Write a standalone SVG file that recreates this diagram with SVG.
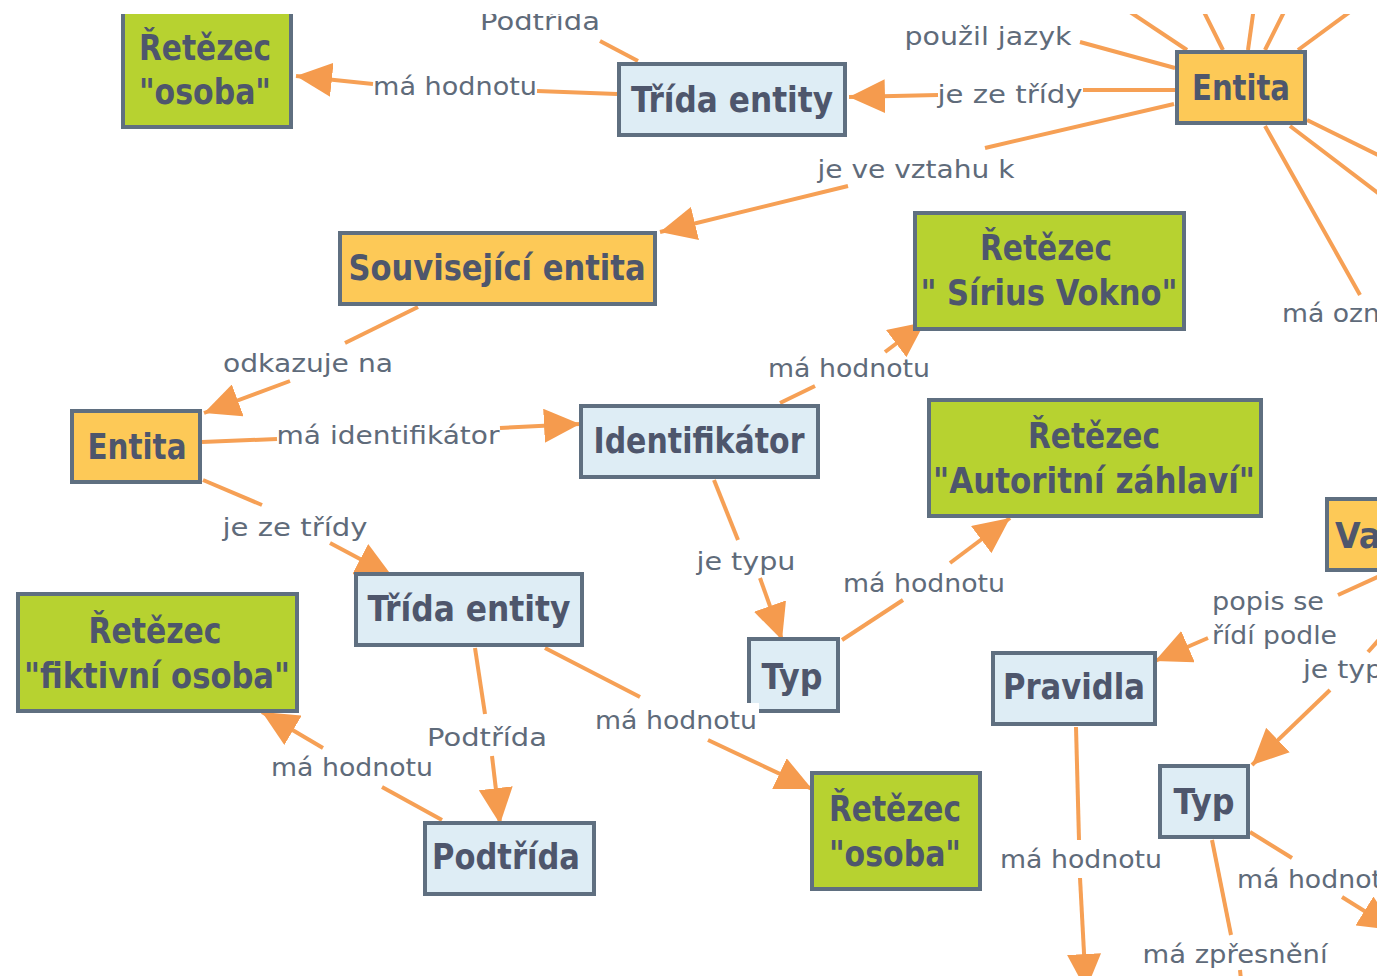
<svg xmlns="http://www.w3.org/2000/svg" width="1382" height="976" viewBox="0 0 1382 976">
<style>
.c{fill:none;stroke:#f6a055;stroke-width:4;stroke-linecap:butt}
.nd rect{stroke:#5f6f80;stroke-width:4}
.g{fill:#b7d230}.o{fill:#fdc957}.b{fill:#deedf5}
.nt{font-family:"DejaVu Sans Condensed","DejaVu Sans",sans-serif;font-weight:bold;font-size:35px;fill:#4e566c;text-anchor:middle}
.lb{font-family:"DejaVu Sans","Verdana",sans-serif;font-size:25px;fill:#5f6b7a;text-anchor:middle}
.st{text-anchor:start}
</style>
<defs>
<clipPath id="view"><rect x="0" y="14" width="1377" height="962"/></clipPath>
<marker id="ah" markerUnits="userSpaceOnUse" markerWidth="36" markerHeight="34" refX="36" refY="17" orient="auto" viewBox="0 0 36 34"><path d="M0,0 L36,17 L0,34 z" fill="#f59b4e"/></marker>
</defs>
<rect x="0" y="0" width="1382" height="976" fill="#ffffff"/>
<g clip-path="url(#view)">
<g id="connectors">
<path class="c" d="M617,94 L537,91"/>
<path class="c" d="M373,84 L296,76" marker-end="url(#ah)"/>
<path class="c" d="M600,41 L638,61"/>
<path class="c" d="M1175,90 L1083,90"/>
<path class="c" d="M938,95 L849,97" marker-end="url(#ah)"/>
<path class="c" d="M1175,68 L1080,42"/>
<path class="c" d="M1174,104 L985,148"/>
<path class="c" d="M848,186 L660,232" marker-end="url(#ah)"/>
<path class="c" d="M1112,0 L1187,50"/>
<path class="c" d="M1198,0 L1223,50"/>
<path class="c" d="M1255,0 L1248,50"/>
<path class="c" d="M1290,0 L1265,50"/>
<path class="c" d="M1366,0 L1298,50"/>
<path class="c" d="M1307,120 L1382,157"/>
<path class="c" d="M1290,126 L1382,196"/>
<path class="c" d="M1265,126 L1360,295"/>
<path class="c" d="M418,307 L345,343"/>
<path class="c" d="M290,381 L204,413" marker-end="url(#ah)"/>
<path class="c" d="M202,442 L277,439"/>
<path class="c" d="M500,428 L580,424" marker-end="url(#ah)"/>
<path class="c" d="M203,480 L262,505"/>
<path class="c" d="M330,543 L392,576" marker-end="url(#ah)"/>
<path class="c" d="M780,403 L815,386"/>
<path class="c" d="M885,352 L925,322" marker-end="url(#ah)"/>
<path class="c" d="M714,480 L738,540"/>
<path class="c" d="M760,578 L782,640" marker-end="url(#ah)"/>
<path class="c" d="M842,640 L903,600"/>
<path class="c" d="M950,563 L1010,518" marker-end="url(#ah)"/>
<path class="c" d="M475,648 L485,714"/>
<path class="c" d="M492,756 L500,824" marker-end="url(#ah)"/>
<path class="c" d="M442,820 L382,787"/>
<path class="c" d="M323,748 L262,712" marker-end="url(#ah)"/>
<path class="c" d="M545,648 L640,697"/>
<path class="c" d="M708,740 L812,789" marker-end="url(#ah)"/>
<path class="c" d="M1382,575 L1338,595"/>
<path class="c" d="M1208,638 L1155,661" marker-end="url(#ah)"/>
<path class="c" d="M1384,634 L1368,652"/>
<path class="c" d="M1330,690 L1252,765" marker-end="url(#ah)"/>
<path class="c" d="M1076,727 L1079,840"/>
<path class="c" d="M1080,878 L1086,990" marker-end="url(#ah)"/>
<path class="c" d="M1250,832 L1292,858"/>
<path class="c" d="M1342,897 L1395,930" marker-end="url(#ah)"/>
<path class="c" d="M1212,840 L1231,935"/>
<path class="c" d="M1240,970 L1242,990"/>
</g>
<g id="n1" class="nd"><rect class="g" x="123" y="11" width="168" height="116"/><text class="nt" x="205" y="60" textLength="132" lengthAdjust="spacingAndGlyphs">Řetězec</text><text class="nt" x="205" y="104" textLength="132" lengthAdjust="spacingAndGlyphs">"osoba"</text></g>
<g id="n2" class="nd"><rect class="b" x="619" y="64" width="226" height="71"/><text class="nt" x="732" y="112" textLength="202" lengthAdjust="spacingAndGlyphs">Třída entity</text></g>
<g id="n3" class="nd"><rect class="o" x="1177" y="52" width="128" height="71"/><text class="nt" x="1241" y="100" textLength="98" lengthAdjust="spacingAndGlyphs">Entita</text></g>
<g id="n4" class="nd"><rect class="o" x="340" y="233" width="315" height="71"/><text class="nt" x="497" y="280" textLength="297" lengthAdjust="spacingAndGlyphs">Související entita</text></g>
<g id="n5" class="nd"><rect class="g" x="915" y="213" width="269" height="116"/><text class="nt" x="1046" y="260" textLength="132" lengthAdjust="spacingAndGlyphs">Řetězec</text><text class="nt" x="1049" y="305" textLength="257" lengthAdjust="spacingAndGlyphs">" Sírius Vokno"</text></g>
<g id="n6" class="nd"><rect class="o" x="72" y="411" width="128" height="71"/><text class="nt" x="137" y="459" textLength="99" lengthAdjust="spacingAndGlyphs">Entita</text></g>
<g id="n7" class="nd"><rect class="b" x="581" y="406" width="237" height="71"/><text class="nt" x="699" y="453" textLength="211" lengthAdjust="spacingAndGlyphs">Identifikátor</text></g>
<g id="n8" class="nd"><rect class="g" x="929" y="400" width="332" height="116"/><text class="nt" x="1094" y="448" textLength="132" lengthAdjust="spacingAndGlyphs">Řetězec</text><text class="nt" x="1094" y="493" textLength="322" lengthAdjust="spacingAndGlyphs">"Autoritní záhlaví"</text></g>
<g id="n9" class="nd"><rect class="o" x="1327" y="499" width="80" height="71"/><text class="nt st" x="1335" y="548" textLength="46" lengthAdjust="spacingAndGlyphs">Va</text></g>
<g id="n10" class="nd"><rect class="b" x="356" y="574" width="226" height="71"/><text class="nt" x="469" y="621" textLength="203" lengthAdjust="spacingAndGlyphs">Třída entity</text></g>
<g id="n11" class="nd"><rect class="g" x="18" y="594" width="279" height="117"/><text class="nt" x="155" y="643" textLength="133" lengthAdjust="spacingAndGlyphs">Řetězec</text><text class="nt" x="157" y="688" textLength="266" lengthAdjust="spacingAndGlyphs">"fiktivní osoba"</text></g>
<g id="n12" class="nd"><rect class="b" x="749" y="639" width="89" height="72"/><text class="nt" x="792" y="689" textLength="61" lengthAdjust="spacingAndGlyphs">Typ</text></g>
<g id="n13" class="nd"><rect class="b" x="425" y="823" width="169" height="71"/><text class="nt" x="506" y="869" textLength="148" lengthAdjust="spacingAndGlyphs">Podtřída</text></g>
<g id="n14" class="nd"><rect class="g" x="812" y="773" width="168" height="116"/><text class="nt" x="895" y="821" textLength="132" lengthAdjust="spacingAndGlyphs">Řetězec</text><text class="nt" x="895" y="866" textLength="132" lengthAdjust="spacingAndGlyphs">"osoba"</text></g>
<g id="n15" class="nd"><rect class="b" x="993" y="653" width="162" height="71"/><text class="nt" x="1074" y="699" textLength="142" lengthAdjust="spacingAndGlyphs">Pravidla</text></g>
<g id="n16" class="nd"><rect class="b" x="1160" y="766" width="88" height="71"/><text class="nt" x="1204" y="814" textLength="61" lengthAdjust="spacingAndGlyphs">Typ</text></g>
<g id="labels">
<text class="lb" x="540" y="30" textLength="120" lengthAdjust="spacingAndGlyphs">Podtřída</text>
<text class="lb" x="455" y="95" textLength="164" lengthAdjust="spacingAndGlyphs">má hodnotu</text>
<text class="lb" x="988" y="45" textLength="167" lengthAdjust="spacingAndGlyphs">použil jazyk</text>
<text class="lb" x="1010" y="103" textLength="145" lengthAdjust="spacingAndGlyphs">je ze třídy</text>
<text class="lb" x="916" y="178" textLength="197" lengthAdjust="spacingAndGlyphs">je ve vztahu k</text>
<text class="lb st" x="1282" y="322" textLength="98" lengthAdjust="spacingAndGlyphs">má ozn</text>
<text class="lb" x="308" y="372" textLength="170" lengthAdjust="spacingAndGlyphs">odkazuje na</text>
<text class="lb" x="849" y="377" textLength="162" lengthAdjust="spacingAndGlyphs">má hodnotu</text>
<text class="lb" x="388" y="444" textLength="223" lengthAdjust="spacingAndGlyphs">má identifikátor</text>
<text class="lb" x="295" y="536" textLength="145" lengthAdjust="spacingAndGlyphs">je ze třídy</text>
<text class="lb" x="746" y="570" textLength="99" lengthAdjust="spacingAndGlyphs">je typu</text>
<text class="lb" x="924" y="592" textLength="162" lengthAdjust="spacingAndGlyphs">má hodnotu</text>
<text class="lb st" x="1212" y="610" textLength="112" lengthAdjust="spacingAndGlyphs">popis se</text>
<text class="lb st" x="1212" y="644" textLength="125" lengthAdjust="spacingAndGlyphs">řídí podle</text>
<text class="lb st" x="1303" y="678" textLength="80" lengthAdjust="spacingAndGlyphs">je typ</text>
<rect x="594" y="703" width="165" height="32" fill="#ffffff"/>
<text class="lb" x="676" y="729" textLength="162" lengthAdjust="spacingAndGlyphs">má hodnotu</text>
<text class="lb" x="487" y="746" textLength="120" lengthAdjust="spacingAndGlyphs">Podtřída</text>
<text class="lb" x="352" y="776" textLength="162" lengthAdjust="spacingAndGlyphs">má hodnotu</text>
<text class="lb" x="1081" y="868" textLength="162" lengthAdjust="spacingAndGlyphs">má hodnotu</text>
<text class="lb st" x="1237" y="888" textLength="145" lengthAdjust="spacingAndGlyphs">má hodnot</text>
<text class="lb" x="1235" y="963" textLength="185" lengthAdjust="spacingAndGlyphs">má zpřesnění</text>
</g>
</g>
</svg>
